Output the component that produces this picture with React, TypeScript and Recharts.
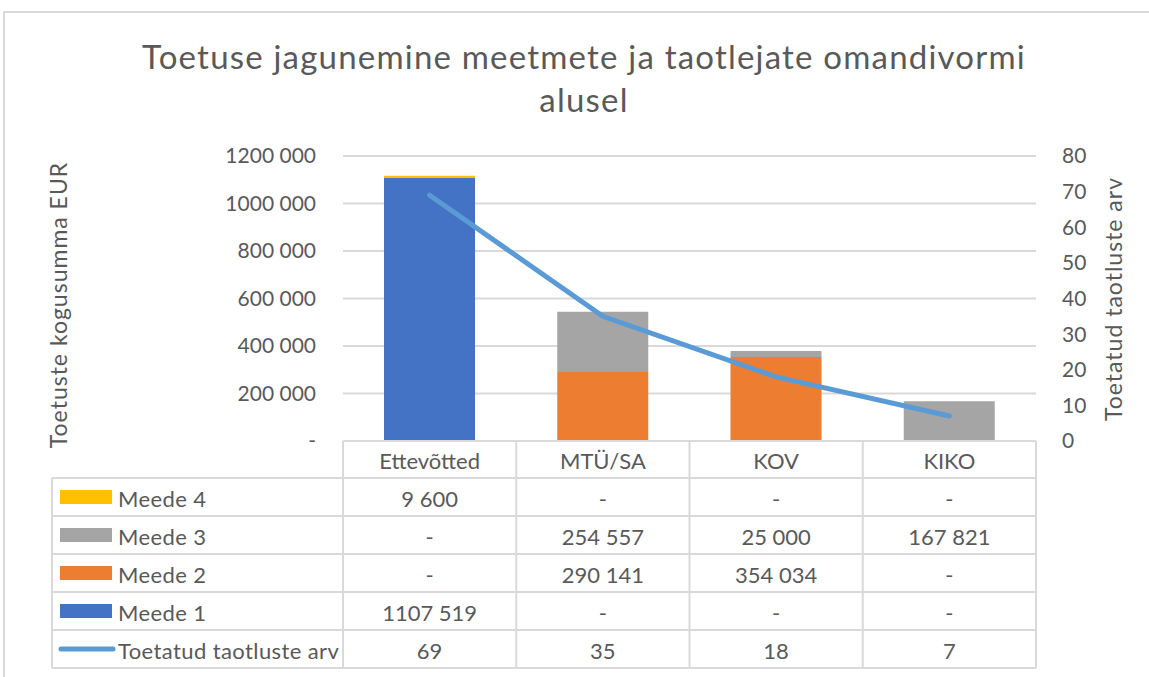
import React from 'react';
import { ComposedChart, Bar, Line, XAxis, YAxis, CartesianGrid } from 'recharts';

const categories = ['Ettevõtted', 'MTÜ/SA', 'KOV', 'KIKO'];
const meede1 = [1107519, 0, 0, 0];
const meede2 = [0, 290141, 354034, 0];
const meede3 = [0, 254557, 25000, 167821];
const meede4 = [9600, 0, 0, 0];
const taotlusteArv = [69, 35, 18, 7];
const leftTicks = [0, 200000, 400000, 600000, 800000, 1000000, 1200000];
const rightTicks = [0, 10, 20, 30, 40, 50, 60, 70, 80];

const data = categories.map((name, i) => ({
  name,
  m1: meede1[i],
  m2: meede2[i],
  m3: meede3[i],
  m4: meede4[i],
  arv: taotlusteArv[i],
}));

const W = 1149;
const H = 677;
const TOP = 156;
const PLOT_BOTTOM = 441;
const LEFT_W = 343;
const RIGHT_W = 113;
const BAND = (W - LEFT_W - RIGHT_W) / categories.length;
const LEGEND_W = 291;
const HEADER_H = 37;
const ROW_H = 38;
const FONT = 'Lato, "Open Sans", sans-serif';
const TXT = '#595959';
const GRID = '#d9d9d9';
const TFS = 22;

const C1 = '#4472C4';
const C2 = '#ED7D31';
const C3 = '#A5A5A5';
const C4 = '#FFC000';
const CL = '#5B9BD5';

const rows = [
  { key: 'm4', label: 'Meede 4', color: C4, kind: 'rect' },
  { key: 'm3', label: 'Meede 3', color: C3, kind: 'rect' },
  { key: 'm2', label: 'Meede 2', color: C2, kind: 'rect' },
  { key: 'm1', label: 'Meede 1', color: C1, kind: 'rect' },
  { key: 'arv', label: 'Toetatud taotluste arv', color: CL, kind: 'line' },
];

function fmt(n: number): string {
  if (!n) return '-';
  if (n < 1000) return String(n);
  const hi = Math.floor(n / 1000);
  const lo = String(n % 1000).padStart(3, '0');
  return `${hi} ${lo}`;
}

function TableTick(props: any) {
  const { x, y, payload } = props;
  const i = payload.index;
  const d = data[i];
  const half = BAND / 2;
  const left = x - half;
  const right = x + half;
  const tableTop = y + HEADER_H;
  const bottom = tableTop + rows.length * ROW_H;
  const legLeft = left - LEGEND_W;
  const els: any[] = [];
  els.push(
    <text key="h" x={x} y={y + HEADER_H / 2 + 1} textAnchor="middle" dominantBaseline="central" fill={TXT} fontSize={TFS} fontFamily={FONT}>
      {payload.value}
    </text>
  );
  els.push(<line key="vr" x1={right} x2={right} y1={y} y2={bottom} stroke={GRID} strokeWidth={2} />);
  for (let k = 0; k <= rows.length; k++) {
    const yy = tableTop + k * ROW_H;
    els.push(<line key={'hl' + k} x1={left} x2={right} y1={yy} y2={yy} stroke={GRID} strokeWidth={2} />);
  }
  rows.forEach((r, k) => {
    const cy = tableTop + k * ROW_H + ROW_H / 2 + 1;
    const v = (d as any)[r.key];
    els.push(
      <text key={'c' + k} x={x} y={cy} textAnchor="middle" dominantBaseline="central" fill={TXT} fontSize={TFS} fontFamily={FONT}>
        {r.kind === 'line' ? String(v) : fmt(v)}
      </text>
    );
  });
  if (i === 0) {
    els.push(<line key="vl" x1={left} x2={left} y1={y} y2={bottom} stroke={GRID} strokeWidth={2} />);
    els.push(<line key="vleg" x1={legLeft} x2={legLeft} y1={tableTop} y2={bottom} stroke={GRID} strokeWidth={2} />);
    for (let k = 0; k <= rows.length; k++) {
      const yy = tableTop + k * ROW_H;
      els.push(<line key={'lhl' + k} x1={legLeft} x2={left} y1={yy} y2={yy} stroke={GRID} strokeWidth={2} />);
    }
    rows.forEach((r, k) => {
      const cy = tableTop + k * ROW_H + ROW_H / 2;
      if (r.kind === 'rect') {
        els.push(<rect key={'sw' + k} x={legLeft + 8} y={cy - 7} width={52} height={14} fill={r.color} />);
      } else {
        els.push(
          <line key={'sw' + k} x1={legLeft + 9} x2={legLeft + 61} y1={cy} y2={cy} stroke={r.color} strokeWidth={5} strokeLinecap="round" />
        );
      }
      els.push(
        <text key={'lt' + k} x={legLeft + 66} y={cy + 1} dominantBaseline="central" fill={TXT} fontSize={TFS} fontFamily={FONT} letterSpacing={0.4}>
          {r.label}
        </text>
      );
    });
  }
  return <g>{els}</g>;
}

export default function App() {
  return (
    <div style={{ position: 'absolute', left: 0, top: 0, width: W, height: H, background: '#fff', overflow: 'hidden', fontFamily: FONT }}>
      <div style={{ position: 'absolute', left: 3, top: 11, width: W + 20, height: H + 20, borderTop: `2px solid ${GRID}`, borderLeft: `2px solid ${GRID}` }} />
      <div style={{ position: 'absolute', left: 0, top: 35, width: 1168, textAlign: 'center', color: TXT, fontSize: 33, lineHeight: '43px', fontWeight: 400, letterSpacing: 1.2 }}>
        Toetuse jagunemine meetmete ja taotlejate omandivormi
        <br />
        alusel
      </div>
      <div style={{ position: 'absolute', left: 0, top: 0 }}>
        <ComposedChart width={W} height={H} data={data} margin={{ top: TOP, right: 0, bottom: 0, left: 0 }} barSize={91}>
          <CartesianGrid vertical={false} stroke={GRID} strokeWidth={2} yAxisId="left" />
          <XAxis
            dataKey="name"
            height={H - PLOT_BOTTOM}
            axisLine={{ stroke: GRID, strokeWidth: 2 }}
            tickLine={false}
            tickSize={0}
            tickMargin={0}
            interval={0}
            tick={<TableTick />}
          />
          <YAxis
            yAxisId="left"
            width={LEFT_W}
            domain={[0, 1200000]}
            ticks={leftTicks}
            axisLine={false}
            tickLine={false}
            tickSize={0}
            tickMargin={27}
            tickFormatter={(v: number) => fmt(v)}
            tick={{ fill: TXT, fontSize: 21, fontFamily: FONT }}
            label={{
              content: () => (
                <text x={58} y={305} transform="rotate(-90, 58, 305)" textAnchor="middle" dominantBaseline="central" fill={TXT} fontSize={23} fontFamily={FONT} letterSpacing={1}>
                  Toetuste kogusumma EUR
                </text>
              ),
            }}
          />
          <YAxis
            yAxisId="right"
            orientation="right"
            width={RIGHT_W}
            domain={[0, 80]}
            ticks={rightTicks}
            axisLine={false}
            tickLine={false}
            tickSize={0}
            tickMargin={26}
            tick={{ fill: TXT, fontSize: 21, fontFamily: FONT, textAnchor: 'start' }}
            label={{
              content: () => (
                <text x={1113} y={299} transform="rotate(-90, 1113, 299)" textAnchor="middle" dominantBaseline="central" fill={TXT} fontSize={23} fontFamily={FONT} letterSpacing={1}>
                  Toetatud taotluste arv
                </text>
              ),
            }}
          />
          <Bar yAxisId="left" dataKey="m1" stackId="s" fill={C1} isAnimationActive={false} />
          <Bar yAxisId="left" dataKey="m2" stackId="s" fill={C2} isAnimationActive={false} />
          <Bar yAxisId="left" dataKey="m3" stackId="s" fill={C3} isAnimationActive={false} />
          <Bar yAxisId="left" dataKey="m4" stackId="s" fill={C4} isAnimationActive={false} />
          <Line yAxisId="right" dataKey="arv" type="linear" stroke={CL} strokeWidth={5} strokeLinecap="round" dot={false} activeDot={false} isAnimationActive={false} />
        </ComposedChart>
      </div>
    </div>
  );
}
